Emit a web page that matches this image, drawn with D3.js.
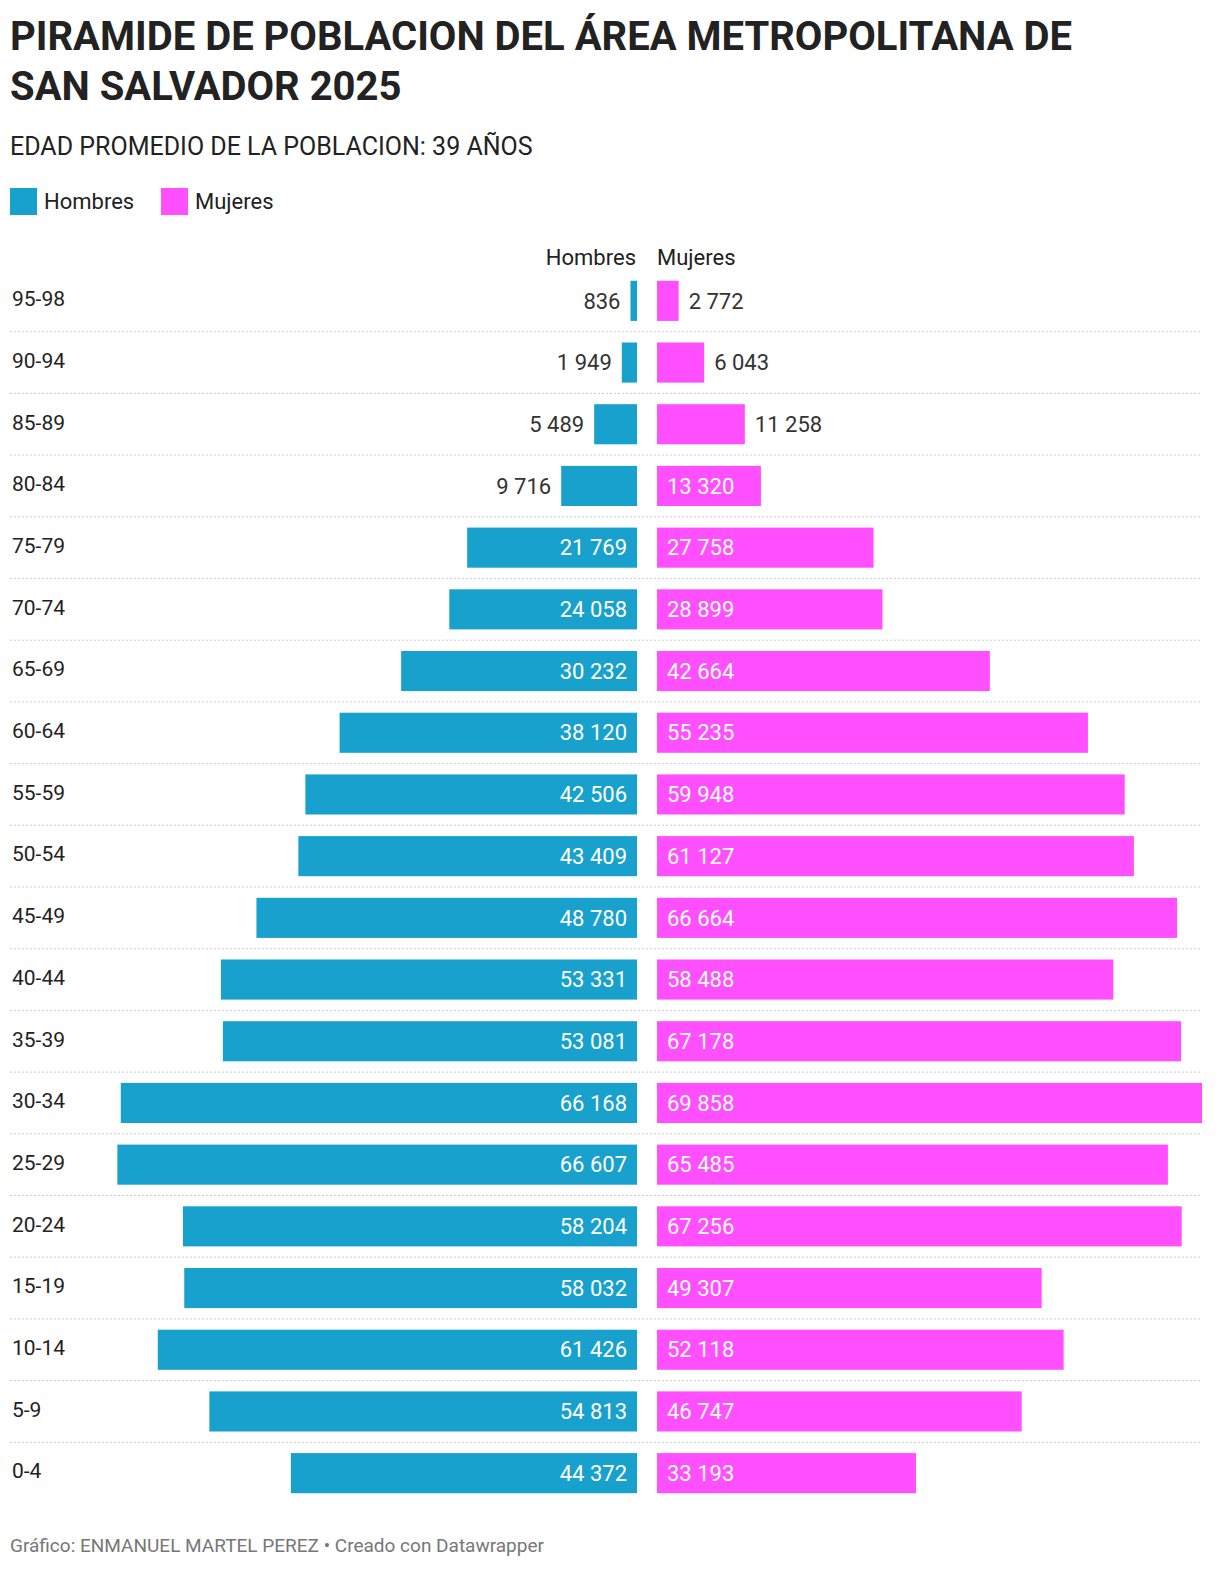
<!DOCTYPE html>
<html><head><meta charset="utf-8">
<script src="https://cdn.jsdelivr.net/npm/d3@7"></script>
<style>
body{margin:0;background:#fff;font-family:Roboto,sans-serif;}
</style></head><body>
<svg id="chart" width="1220" height="1576"></svg>
<script>
var ages = ["95-98","90-94","85-89","80-84","75-79","70-74","65-69","60-64","55-59","50-54","45-49","40-44","35-39","30-34","25-29","20-24","15-19","10-14","5-9","0-4"];
var hombres = [836,1949,5489,9716,21769,24058,30232,38120,42506,43409,48780,53331,53081,66168,66607,58204,58032,61426,54813,44372];
var mujeres = [2772,6043,11258,13320,27758,28899,42664,55235,59948,61127,66664,58488,67178,69858,65485,67256,49307,52118,46747,33193];

var BLUE = "#18a1cd", PINK = "#ff4fff", TXT = "#222";
var svg = d3.select("#chart");
var fmt = function(v){ return d3.format(",")(v).replace(/,/g, "\u2009".length ? " " : " "); };

svg.append("text").attr("x",10).attr("y",50).attr("font-size",40).attr("font-weight",700).attr("fill",TXT)
	.text("PIRAMIDE DE POBLACION DEL ÁREA METROPOLITANA DE");
svg.append("text").attr("x",10).attr("y",100).attr("font-size",40).attr("font-weight",700).attr("fill",TXT)
	.text("SAN SALVADOR 2025");
svg.append("text").attr("x",10).attr("y",155).attr("font-size",25).attr("fill",TXT)
	.text("EDAD PROMEDIO DE LA POBLACION: 39 AÑOS");

// legend
[["Hombres",BLUE,10],["Mujeres",PINK,161]].forEach(function(l){
	svg.append("rect").attr("x",l[2]).attr("y",188).attr("width",27).attr("height",27).attr("fill",l[1]);
	svg.append("text").attr("x",l[2]+34).attr("y",209).attr("font-size",22).attr("fill",TXT).text(l[0]);
});

svg.append("text").attr("x",636).attr("y",265).attr("text-anchor","end").attr("font-size",22).attr("fill",TXT).text("Hombres");
svg.append("text").attr("x",657).attr("y",265).attr("font-size",22).attr("fill",TXT).text("Mujeres");

var x = d3.scaleLinear().domain([0,69858]).range([0,545]);
var y = d3.scaleBand().domain(ages).range([270,1504]).paddingInner(0.35).paddingOuter(0.175);
var mid0 = 637, mid1 = 657, step = y.step();

var rows = svg.selectAll("g.row").data(ages).enter().append("g").attr("class","row")
	.attr("transform",function(d){return "translate(0,"+y(d)+")";});
var bh = y.bandwidth();

rows.append("text").attr("x",12).attr("y",bh/2-2).attr("dy","0.35em").attr("font-size",21).attr("fill",TXT).text(function(d){return d;});

rows.filter(function(d,i){return i<ages.length-1;}).append("line")
	.attr("x1",10).attr("x2",1202).attr("y1",bh+(step-bh)/2).attr("y2",bh+(step-bh)/2)
	.attr("stroke","#ccc").attr("stroke-width",1).attr("stroke-dasharray","2,2");

rows.append("rect").attr("x",function(d,i){return mid0-x(hombres[i]);}).attr("y",0)
	.attr("width",function(d,i){return x(hombres[i]);}).attr("height",bh).attr("fill",BLUE);
rows.append("rect").attr("x",mid1).attr("y",0)
	.attr("width",function(d,i){return x(mujeres[i]);}).attr("height",bh).attr("fill",PINK);

rows.append("text").attr("y",bh/2).attr("dy","0.35em").attr("font-size",22).attr("text-anchor","end")
	.attr("x",function(d,i){var w=x(hombres[i]);return w>90 ? mid0-10 : mid0-w-10;})
	.attr("fill",function(d,i){return x(hombres[i])>90 ? "#fff" : "#333";})
	.text(function(d,i){return fmt(hombres[i]);});
rows.append("text").attr("y",bh/2).attr("dy","0.35em").attr("font-size",22)
	.attr("x",function(d,i){var w=x(mujeres[i]);return w>90 ? mid1+10 : mid1+w+10;})
	.attr("fill",function(d,i){return x(mujeres[i])>90 ? "#fff" : "#333";})
	.text(function(d,i){return fmt(mujeres[i]);});

svg.append("text").attr("x",10).attr("y",1552).attr("font-size",19).attr("fill","#777")
	.text("Gráfico: ENMANUEL MARTEL PEREZ • Creado con Datawrapper");
</script>
</body></html>
